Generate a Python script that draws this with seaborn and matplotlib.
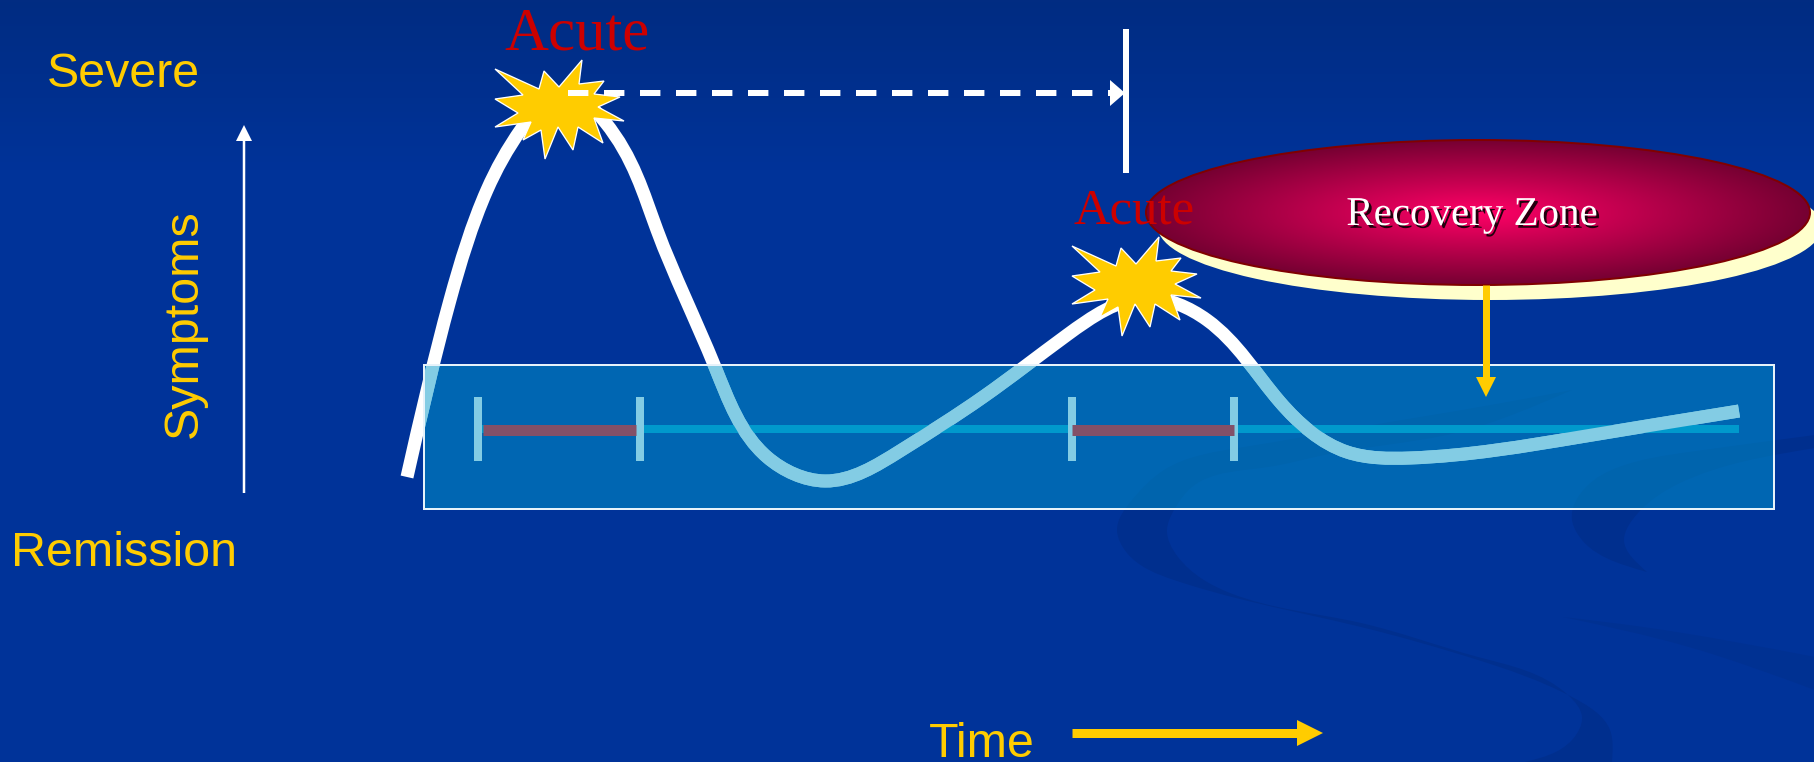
import numpy as np
import matplotlib
matplotlib.use("Agg")
import matplotlib.pyplot as plt
from matplotlib.colors import LinearSegmentedColormap
from matplotlib.patches import Ellipse, Rectangle, PathPatch
from matplotlib.path import Path
import matplotlib.patheffects as pe
import seaborn as sns

# --- values (pixel positions of the slide) ---
curve_x = [407, 450, 487, 522, 563, 605, 657, 715, 767, 825, 900, 983, 1067, 1147, 1207, 1280, 1347, 1410, 1580, 1739]
curve_y = [477, 300, 190, 128, 93, 122, 230, 367, 457, 481, 451, 397, 335, 298, 320, 402, 452, 458, 437, 411]
star_x = [495, 539, 544, 559, 582, 579, 604, 594, 620, 598, 624, 594, 603, 578, 573, 558, 545, 541, 523, 531, 495, 518, 495, 523]
star_y = [69, 89, 71, 87, 60, 84, 81, 94, 97, 107, 121, 118, 143, 127, 150, 127, 159, 130, 140, 122, 127, 113, 99, 95]
star_shift = (577, 177)
tick_xs = [478, 640, 1072, 1234]
acute_spans = [(483, 636), (1072, 1234)]
swirl_a_outer_x = [1572, 1502, 1361, 1244, 1164, 1132, 1117, 1127, 1174, 1244, 1361, 1478, 1572, 1610, 1612]
swirl_a_outer_y = [390, 403, 427, 447, 470, 500, 530, 553, 580, 600, 627, 660, 697, 730, 762]
swirl_a_inner_x = [1525, 1572, 1582, 1568, 1478, 1361, 1230, 1178, 1167, 1174, 1192, 1268, 1324, 1455, 1572]
swirl_a_inner_y = [762, 740, 717, 695, 657, 623, 593, 557, 530, 510, 487, 467, 455, 433, 390]
swirl_b_outer_x = [1815, 1689, 1619, 1586, 1572, 1577, 1647]
swirl_b_outer_y = [435, 452, 467, 487, 520, 533, 572]
swirl_b_inner_x = [1647, 1624, 1638, 1680, 1815]
swirl_b_inner_y = [572, 540, 513, 483, 448]
swirl_c_outer_x = [1563, 1643, 1815]
swirl_c_outer_y = [617, 627, 657]
swirl_c_inner_x = [1815, 1689, 1563]
swirl_c_inner_y = [690, 647, 617]

labels_left = ["Severe", "Symptoms", "Remission"]
label_time = "Time"
label_acute = "Acute"
label_zone = "Recovery Zone"

YELLOW = "#FFCC00"
RED = "#CC0000"
WHITE = "#FFFFFF"
px = 0.72  # one pixel in points at 100 dpi


def smooth_segments(x, y):
    """Bezier control points (C2 spline tangents) so the path runs smoothly through the read points."""
    p = np.column_stack([x, y]).astype(float)
    h = np.hypot(*np.diff(p, axis=0).T)
    d = np.diff(p, axis=0) / h[:, None]
    n = len(p)
    A = np.zeros((n, n))
    b = np.zeros((n, 2))
    A[0, 0], A[0, 1], b[0] = 2, 1, 3 * d[0]
    A[-1, -1], A[-1, -2], b[-1] = 2, 1, 3 * d[-1]
    for i in range(1, n - 1):
        A[i, i - 1] = h[i]
        A[i, i] = 2 * (h[i - 1] + h[i])
        A[i, i + 1] = h[i - 1]
        b[i] = 3 * (h[i] * d[i - 1] + h[i - 1] * d[i])
    m = np.linalg.solve(A, b)
    verts, codes = [], []
    for i in range(n - 1):
        dt = h[i] / 3
        verts += [p[i] + m[i] * dt, p[i + 1] - m[i + 1] * dt, p[i + 1]]
        codes += [Path.CURVE4] * 3
    return p[0], verts, codes


def open_path(x, y):
    start, verts, codes = smooth_segments(x, y)
    return Path([start] + verts, [Path.MOVETO] + codes)


def closed_path(x1, y1, x2, y2):
    s1, v1, c1 = smooth_segments(x1, y1)
    s2, v2, c2 = smooth_segments(x2, y2)
    return Path([s1] + v1 + [s2] + v2 + [s1],
                [Path.MOVETO] + c1 + [Path.LINETO] + c2 + [Path.CLOSEPOLY])


sns.set_style("white")
plt.rcParams["font.family"] = ["Liberation Sans", "DejaVu Sans"]

fig = plt.figure(figsize=(1815 / 100, 762 / 100), dpi=100)
ax = fig.add_axes([0, 0, 1, 1])

# background
bg_map = LinearSegmentedColormap.from_list("bg", ["#012C82", "#003399"])
grad = np.clip(np.linspace(0, 762, 381) / 170, 0, 1).reshape(-1, 1)
ax.imshow(grad, cmap=bg_map, extent=(0, 1815, 762, 0), aspect="auto", zorder=0, vmin=0, vmax=1)
ax.add_patch(PathPatch(closed_path(swirl_a_outer_x, swirl_a_outer_y, swirl_a_inner_x, swirl_a_inner_y),
                       facecolor="#002F8E", edgecolor="none", zorder=1))
ax.add_patch(PathPatch(closed_path(swirl_b_outer_x, swirl_b_outer_y, swirl_b_inner_x, swirl_b_inner_y),
                       facecolor="#002F8E", edgecolor="none", zorder=1))
ax.add_patch(PathPatch(closed_path(swirl_c_outer_x, swirl_c_outer_y, swirl_c_inner_x, swirl_c_inner_y),
                       facecolor="#003192", edgecolor="none", zorder=1))

# symptom curve
curve_path = open_path(curve_x, curve_y)
ax.add_patch(PathPatch(curve_path, facecolor="none", edgecolor=WHITE, linewidth=13 * px,
                       capstyle="butt", joinstyle="round", zorder=2))

# translucent zone
zone = Rectangle((424, 365), 1350, 144, facecolor="#0099CC", alpha=0.5, edgecolor="none", zorder=3)
ax.add_patch(zone)
ax.add_patch(Rectangle((424, 365), 1350, 144, facecolor="none", edgecolor="#E6F2FA", linewidth=2 * px, zorder=6))

# timeline
sns.lineplot(x=[475, 1739], y=[429, 429], color="#0099CC", linewidth=8 * px, solid_capstyle="butt",
             errorbar=None, zorder=4, ax=ax)
for a, b in acute_spans:
    sns.lineplot(x=[a, b], y=[429.5, 429.5], color="#835068", linewidth=11 * px, solid_capstyle="butt",
                 errorbar=None, zorder=4.2, ax=ax)
for tx in tick_xs:
    sns.lineplot(x=[tx, tx], y=[397, 461], sort=False, estimator=None, color="#83CCE4", linewidth=8 * px,
                 solid_capstyle="butt", errorbar=None, zorder=4.1, ax=ax)

# curve seen through the zone
through = PathPatch(curve_path, facecolor="none", edgecolor="#83CCE4", linewidth=13 * px,
                    capstyle="butt", joinstyle="round", zorder=5)
ax.add_patch(through)
through.set_clip_path(zone)

# recovery ellipse
ax.add_patch(Ellipse((1490, 227), 664, 146, facecolor="#FFFFCC", edgecolor="none", zorder=7))
yy, xx = np.mgrid[-1:1:200j, -1:1:400j]
rad = np.clip(np.sqrt(xx ** 2 + yy ** 2), 0, 1)
el_map = LinearSegmentedColormap.from_list("el", ["#FF0066", "#760032"])
im = ax.imshow(rad, cmap=el_map, extent=(1146, 1810, 285, 140), aspect="auto", zorder=7.1, vmin=0, vmax=1)
clip = Ellipse((1478, 212.5), 664, 145, transform=ax.transData, facecolor="none", edgecolor="none")
ax.add_patch(clip)
im.set_clip_path(clip)
ax.add_patch(Ellipse((1478, 212.5), 664, 145, facecolor="none", edgecolor="#800000", linewidth=2 * px, zorder=7.2))
ax.text(1472, 225, label_zone, family="Liberation Serif", fontsize=29.5, color=WHITE, ha="center",
        va="baseline", zorder=8,
        path_effects=[pe.withSimplePatchShadow(offset=(2, -2), shadow_rgbFace="black", alpha=0.85)])

# orange arrow from ellipse to zone
ax.plot([1486, 1486], [285, 378], color=YELLOW, lw=7 * px, solid_capstyle="butt", zorder=8)
ax.fill([1476, 1496, 1486], [377, 377, 397], color=YELLOW, lw=0, zorder=8)

# bursts
ax.fill(star_x, star_y, facecolor=YELLOW, edgecolor=WHITE, linewidth=1.3 * px, joinstyle="miter", zorder=9)
ax.fill(np.array(star_x) + star_shift[0], np.array(star_y) + star_shift[1], facecolor=YELLOW,
        edgecolor=WHITE, linewidth=1.3 * px, joinstyle="miter", zorder=9)

# acute labels
ax.text(577, 50, label_acute, family="Liberation Serif", fontsize=43.8, color=RED, ha="center", va="baseline", zorder=10)
ax.text(1134.5, 223, label_acute, family="Liberation Serif", fontsize=36.5, color=RED, ha="center", va="baseline", zorder=10)

# dashed duration arrow
ax.plot([568, 1110], [93, 93], color=WHITE, lw=6 * px, linestyle=(0, (3.4, 2.6)), dash_capstyle="butt", zorder=10)
ax.fill([1110, 1110, 1125], [80, 106, 93], color=WHITE, lw=0, zorder=10)
ax.plot([1126, 1126], [29, 173], color=WHITE, lw=6 * px, solid_capstyle="butt", zorder=10)

# symptoms axis arrow
ax.plot([244, 244], [493, 140], color=WHITE, lw=2.5 * px, solid_capstyle="butt", zorder=4)
ax.fill([236, 252, 244], [141, 141, 125], color=WHITE, lw=0, zorder=4)

# time arrow
ax.plot([1072, 1298], [733, 733], color=YELLOW, lw=9 * px, solid_capstyle="butt", zorder=4)
ax.fill([1297, 1297, 1323], [720, 746, 733], color=YELLOW, lw=0, zorder=4)

# yellow labels
ax.text(47, 87, labels_left[0], fontsize=34.8, color=YELLOW, ha="left", va="baseline", zorder=10)
ax.text(197, 324, labels_left[1], fontsize=34.8, color=YELLOW, ha="center", va="baseline", rotation=90,
        rotation_mode="anchor", zorder=10)
ax.text(11, 566, labels_left[2], fontsize=34.8, color=YELLOW, ha="left", va="baseline", zorder=10)
ax.text(929, 757, label_time, fontsize=34.8, color=YELLOW, ha="left", va="baseline", zorder=10)

ax.set_xlim(0, 1815)
ax.set_ylim(762, 0)
ax.axis("off")
fig.savefig("out.png", dpi=100)
